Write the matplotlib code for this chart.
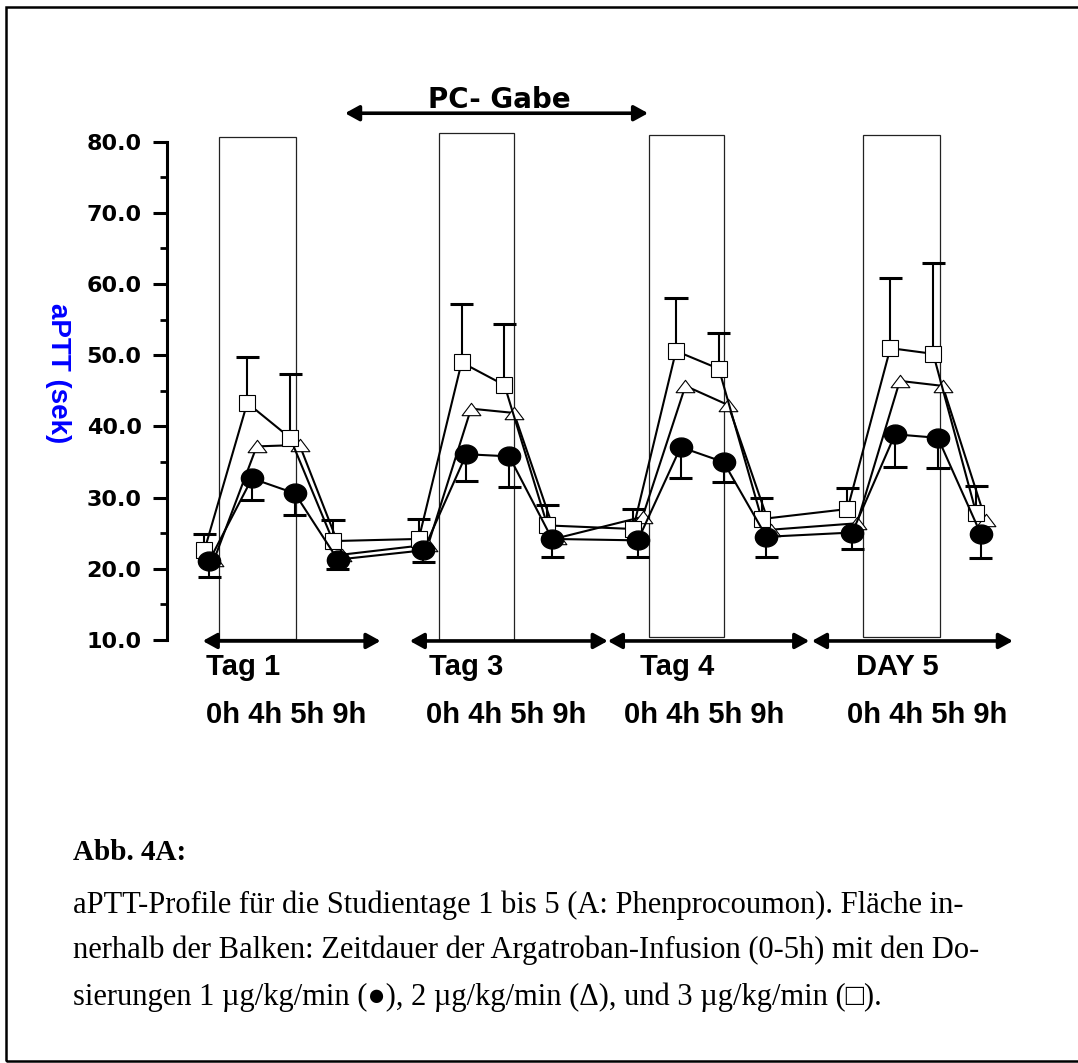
import numpy as np
import matplotlib.pyplot as plt
from matplotlib.patches import Rectangle
from matplotlib.path import Path
from matplotlib.ticker import MultipleLocator, FormatStrFormatter

# x slots: 0h / 4h / 5h / 9h of every study day, one empty slot between days
x = np.array([0, 1, 2, 3, 5, 6, 7, 8, 10, 11, 12, 13, 15, 16, 17, 18])
day_names = ['Tag 1', 'Tag 3', 'Tag 4', 'DAY 5']
hour_labels = ['0h 4h 5h 9h', '0h 4h 5h 9h', '0h 4h 5h 9h', '0h 4h 5h 9h']

# 1 µg/kg/min (filled circles), mean and lower end of the error bar
dose1_mean = np.array([21.1, 32.7, 30.6, 21.3, 22.6, 36.1, 35.8, 24.2,
                       24.0, 37.1, 35.0, 24.5, 25.1, 38.9, 38.4, 24.9])
dose1_low = np.array([18.9, 29.7, 27.5, 20.0, 21.0, 32.3, 31.5, 21.7,
                      21.7, 32.8, 32.2, 21.7, 22.8, 34.3, 34.1, 21.5])
# 2 µg/kg/min (open triangles)
dose2_mean = np.array([21.2, 37.2, 37.4, 22.0, 23.4, 42.5, 41.9, 24.3,
                       27.3, 45.7, 43.0, 25.5, 26.4, 46.4, 45.7, 26.9])
# 3 µg/kg/min (open squares), mean and upper end of the error bar
dose3_mean = np.array([22.6, 43.3, 38.4, 23.9, 24.2, 49.0, 45.8, 26.1,
                       25.6, 50.6, 48.1, 27.0, 28.4, 51.0, 50.2, 27.9])
dose3_high = np.array([24.9, 49.7, 47.3, 26.8, 27.0, 57.2, 54.4, 28.9,
                       28.4, 58.1, 53.1, 29.9, 31.3, 60.8, 63.0, 31.6])

# Argatroban infusion (0-5h) as open bars
infusion_x = [(0.23, 2.03), (5.37, 7.11), (10.26, 12.01), (15.26, 17.05)]
infusion_y = [(10.2, 80.6), (10.0, 81.2), (10.4, 80.9), (10.4, 81.0)]

# day arrows under the axis and the PC arrow above
day_spans = [(-0.15, 4.0), (4.68, 9.3), (9.3, 14.0), (14.06, 18.75)]
pc_span = (3.17, 10.24)

fig = plt.figure(figsize=(10.78, 10.63), dpi=100)
ax = fig.add_axes([0.1546, 0.3979, 0.795, 0.4688])

for (x0, x1), (y0, y1) in zip(infusion_x, infusion_y):
    ax.add_patch(Rectangle((x0, y0), x1 - x0, y1 - y0, fill=False,
                           ec='#222222', lw=0.9, clip_on=False, zorder=1))

# marker shapes: flat ellipse and flat triangle
circ = Path.unit_circle()
ellipse = Path(circ.vertices * [1.0, 0.85], circ.codes)
triangle = Path([(0, 0.66), (-1, -0.66), (1, -0.66), (0, 0.66)],
                [Path.MOVETO, Path.LINETO, Path.LINETO, Path.CLOSEPOLY])

off = 0.11
cap = 0.27
# error bars: upward for 3 µg, downward for 1 µg
ax.vlines(x - off, dose3_mean, dose3_high, color='k', lw=1.5, zorder=2)
ax.hlines(dose3_high, x - off - cap, x - off + cap, color='k', lw=2.2, zorder=2)
ax.vlines(x, dose1_low, dose1_mean, color='k', lw=1.5, zorder=2)
ax.hlines(dose1_low, x - cap, x + cap, color='k', lw=2.2, zorder=2)

ax.plot(x + off, dose2_mean, '-', color='k', lw=1.5, marker=triangle, ms=13.5,
        mfc='white', mec='k', mew=0.8, zorder=3, clip_on=False)
ax.plot(x - off, dose3_mean, '-', color='k', lw=1.5, marker='s', ms=11.5,
        mfc='white', mec='k', mew=0.8, zorder=3, clip_on=False)
ax.plot(x, dose1_mean, '-', color='k', lw=1.5, marker=ellipse, ms=16,
        mfc='k', mec='k', zorder=4, clip_on=False)

ax.set_xlim(-0.99, 19.0)
ax.set_ylim(10, 80)
ax.yaxis.set_major_locator(MultipleLocator(10))
ax.yaxis.set_minor_locator(MultipleLocator(5))
ax.yaxis.set_major_formatter(FormatStrFormatter('%.1f'))
for s in ['top', 'right', 'bottom']:
    ax.spines[s].set_visible(False)
ax.spines['left'].set_linewidth(2.2)
ax.set_xticks([])
ax.tick_params(axis='y', which='major', length=10, width=2.2, pad=8, labelsize=16)
ax.tick_params(axis='y', which='minor', length=5, width=2)
for lab in ax.get_yticklabels():
    lab.set_fontweight('bold')
    lab.set_family('DejaVu Sans')

arrow_style = dict(arrowstyle='<|-|>,head_length=0.6,head_width=0.33',
                   mutation_scale=14, lw=2.6, color='black', shrinkA=0, shrinkB=0)
for x0, x1 in day_spans:
    ax.annotate('', xy=(x1, 9.87), xytext=(x0, 9.87), arrowprops=arrow_style,
                annotation_clip=False)
ax.annotate('', xy=(pc_span[1], 84.0), xytext=(pc_span[0], 84.0),
            arrowprops=arrow_style, annotation_clip=False)
ax.text(6.78, 84.7, 'PC- Gabe', ha='center', va='baseline', fontsize=20,
        fontweight='bold', family='DejaVu Sans', clip_on=False)

day_x = [-0.08, 5.12, 10.05, 15.1]
hour_x = [-0.08, 5.05, 9.67, 14.87]
for name, xd, hrs, xh in zip(day_names, day_x, hour_labels, hour_x):
    ax.text(xd, 5.08, name, ha='left', va='baseline', fontsize=21,
            fontweight='bold', family='Liberation Sans', clip_on=False)
    ax.text(xh, -1.66, hrs, ha='left', va='baseline', fontsize=21,
            fontweight='bold', family='Liberation Sans', clip_on=False)

fig.text(58 / 1078, 0.649, 'aPTT (sek)', rotation=270, ha='center', va='center',
         fontsize=20, fontweight='bold', color='#0000ff', family='Liberation Sans')

# caption
serif = ['Liberation Serif', 'DejaVu Serif', 'DejaVu Sans']
fig.text(73 / 1078, 0.191, 'Abb. 4A:', ha='left', va='baseline', fontsize=21,
         fontweight='bold', family=serif)
caption = [
    'aPTT-Profile für die Studientage 1 bis 5 (A: Phenprocoumon). Fläche in-',
    'nerhalb der Balken: Zeitdauer der Argatroban-Infusion (0-5h) mit den Do-',
    'sierungen 1 µg/kg/min (\u25cf), 2 µg/kg/min (\u0394), und 3 µg/kg/min (\u25a1).',
]
for line, yb in zip(caption, [0.1414, 0.0985, 0.0546]):
    fig.text(73 / 1078, yb, line, ha='left', va='baseline', fontsize=22, family=serif)

# frame around figure and caption
fig.patches.append(Rectangle((6 / 1078, 2 / 1063), 1.2, 0.9912, fill=False,
                             ec='black', lw=1.8, transform=fig.transFigure))

fig.savefig('out.png', dpi=100)
